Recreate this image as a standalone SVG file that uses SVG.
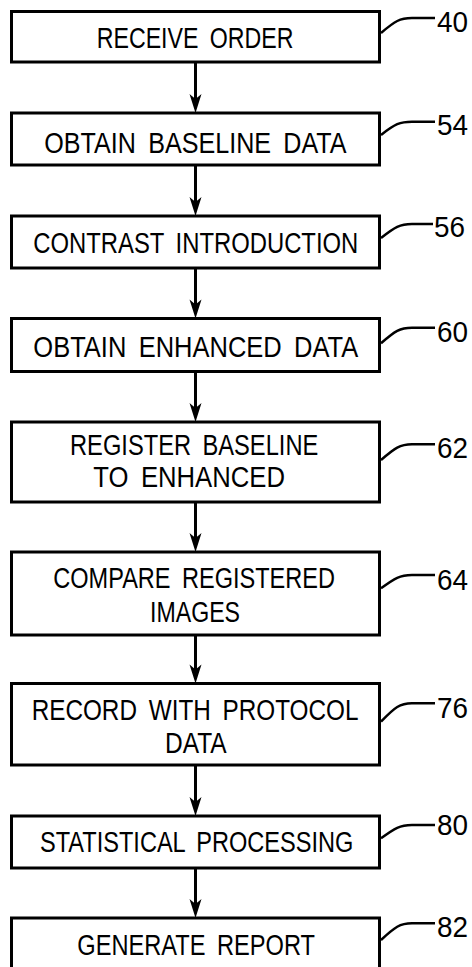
<svg xmlns="http://www.w3.org/2000/svg" width="472" height="967" viewBox="0 0 472 967">
<defs>
<style>
.box{fill:#fff;stroke:#000;stroke-width:3}
.t{font-family:"Liberation Sans",Arial,sans-serif;font-size:29px;fill:#000;word-spacing:6px}
.lbl{font-family:"Liberation Sans",Arial,sans-serif;font-size:29px;fill:#000}
.lead{fill:none;stroke:#000;stroke-width:2.5}
.shaft{stroke:#000;stroke-width:3;fill:none}
.head{fill:#000;stroke:none}
</style>
</defs>
<rect width="472" height="967" fill="#fff"/>
<g id="connectors">
<line class="shaft" x1="195.5" y1="62" x2="195.5" y2="100"/><polygon class="head" points="195.5,113 189.5,94 195.5,99 201.5,94"/>
<line class="shaft" x1="195.5" y1="165" x2="195.5" y2="203"/><polygon class="head" points="195.5,216 189.5,197 195.5,202 201.5,197"/>
<line class="shaft" x1="195.5" y1="268" x2="195.5" y2="305"/><polygon class="head" points="195.5,318.5 189.5,299.5 195.5,304.5 201.5,299.5"/>
<line class="shaft" x1="195.5" y1="371.5" x2="195.5" y2="409"/><polygon class="head" points="195.5,422 189.5,403 195.5,408 201.5,403"/>
<line class="shaft" x1="195.5" y1="502" x2="195.5" y2="539"/><polygon class="head" points="195.5,552 189.5,533 195.5,538 201.5,533"/>
<line class="shaft" x1="195.5" y1="635" x2="195.5" y2="670"/><polygon class="head" points="195.5,683.5 189.5,664.5 195.5,669.5 201.5,664.5"/>
<line class="shaft" x1="195.5" y1="765" x2="195.5" y2="803"/><polygon class="head" points="195.5,816 189.5,797 195.5,802 201.5,797"/>
<line class="shaft" x1="195.5" y1="868" x2="195.5" y2="905"/><polygon class="head" points="195.5,918 189.5,899 195.5,904 201.5,899"/>
<path class="lead" d="M381,33 C395,21 400,18 412,18 L435,18"/>
<path class="lead" d="M381,135 C395,124 400,121.7 412,121.7 L435,121.7"/>
<path class="lead" d="M381,238 C395,227 400,224 412,224 L433,224"/>
<path class="lead" d="M381,343.3 C395,331 400,327.7 412,327.7 L435,327.7"/>
<path class="lead" d="M381,460 C395,448 400,444.3 412,444.3 L435,444.3"/>
<path class="lead" d="M381,588.3 C395,578 400,575 412,575 L435,575"/>
<path class="lead" d="M381,721.7 C395,707 400,703.3 412,703.3 L435,703.3"/>
<path class="lead" d="M381,838.3 C395,828 400,825 412,825 L435,825"/>
<path class="lead" d="M381,940 C395,927 400,923.3 412,923.3 L435,923.3"/>
</g>
<g id="n40">
<rect class="box" x="11.5" y="11.5" width="368" height="50.5"/>
<text class="t" x="96.7" y="48.3" textLength="196.7" lengthAdjust="spacingAndGlyphs">RECEIVE ORDER</text>
<text class="lbl" x="437" y="31.7" textLength="31" lengthAdjust="spacingAndGlyphs">40</text>
</g>
<g id="n54">
<rect class="box" x="11.5" y="113" width="368" height="52"/>
<text class="t" x="44.3" y="153" textLength="302.3" lengthAdjust="spacingAndGlyphs">OBTAIN BASELINE DATA</text>
<text class="lbl" x="437" y="135" textLength="31" lengthAdjust="spacingAndGlyphs">54</text>
</g>
<g id="n56">
<rect class="box" x="11.5" y="216" width="368" height="52"/>
<text class="t" x="33.3" y="253.3" textLength="325" lengthAdjust="spacingAndGlyphs">CONTRAST INTRODUCTION</text>
<text class="lbl" x="434" y="237" textLength="31" lengthAdjust="spacingAndGlyphs">56</text>
</g>
<g id="n60">
<rect class="box" x="11.5" y="318.5" width="368" height="53"/>
<text class="t" x="33.3" y="356.7" textLength="325" lengthAdjust="spacingAndGlyphs">OBTAIN ENHANCED DATA</text>
<text class="lbl" x="437" y="341.7" textLength="31" lengthAdjust="spacingAndGlyphs">60</text>
</g>
<g id="n62">
<rect class="box" x="11.5" y="422" width="368" height="80"/>
<text class="t" x="70" y="455" textLength="248.3" lengthAdjust="spacingAndGlyphs">REGISTER BASELINE</text>
<text class="t" x="93.3" y="486.7" textLength="191.7" lengthAdjust="spacingAndGlyphs">TO ENHANCED</text>
<text class="lbl" x="437" y="458.3" textLength="31" lengthAdjust="spacingAndGlyphs">62</text>
</g>
<g id="n64">
<rect class="box" x="11.5" y="552" width="368" height="83"/>
<text class="t" x="53.3" y="588.3" textLength="281.7" lengthAdjust="spacingAndGlyphs">COMPARE REGISTERED</text>
<text class="t" x="150" y="621.7" textLength="90" lengthAdjust="spacingAndGlyphs">IMAGES</text>
<text class="lbl" x="437" y="590" textLength="31" lengthAdjust="spacingAndGlyphs">64</text>
</g>
<g id="n76">
<rect class="box" x="11.5" y="683.5" width="368" height="81.5"/>
<text class="t" x="31.7" y="720" textLength="326.7" lengthAdjust="spacingAndGlyphs">RECORD WITH PROTOCOL</text>
<text class="t" x="165" y="753.3" textLength="61.7" lengthAdjust="spacingAndGlyphs">DATA</text>
<text class="lbl" x="437" y="718.3" textLength="31" lengthAdjust="spacingAndGlyphs">76</text>
</g>
<g id="n80">
<rect class="box" x="11.5" y="816" width="368" height="52"/>
<text class="t" x="40" y="851.7" textLength="313.3" lengthAdjust="spacingAndGlyphs">STATISTICAL PROCESSING</text>
<text class="lbl" x="437" y="835" textLength="31" lengthAdjust="spacingAndGlyphs">80</text>
</g>
<g id="n82">
<rect class="box" x="11.5" y="918" width="368" height="70"/>
<text class="t" x="77.3" y="955" textLength="237.7" lengthAdjust="spacingAndGlyphs">GENERATE REPORT</text>
<text class="lbl" x="437" y="936.7" textLength="31" lengthAdjust="spacingAndGlyphs">82</text>
</g>
</svg>
